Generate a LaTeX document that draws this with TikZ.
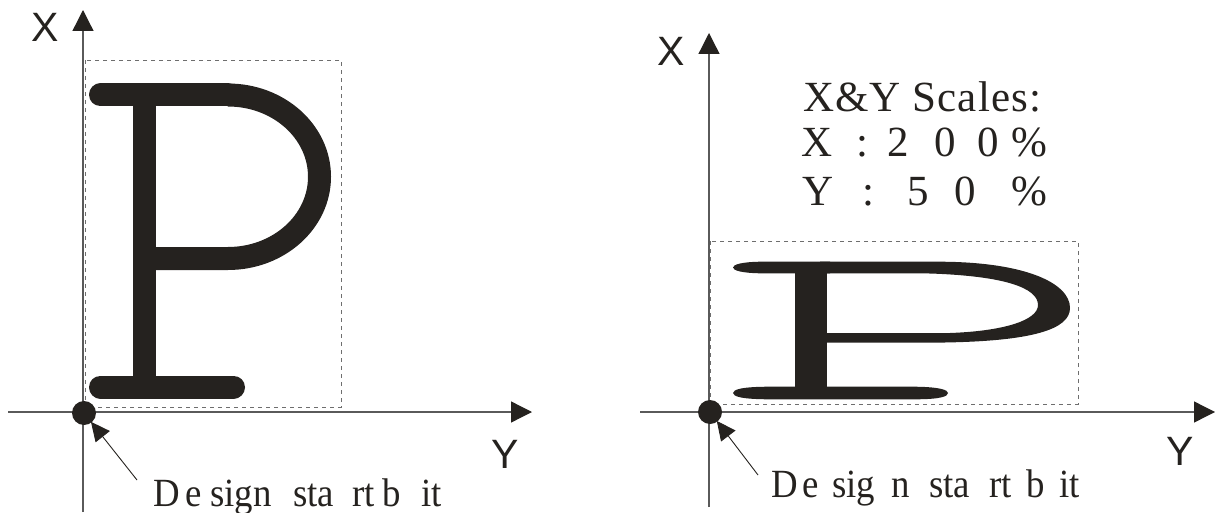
\documentclass[tikz,border=0pt]{standalone}
\usepackage{fontspec}
\setmainfont{Liberation Serif}
\newfontfamily\axfont{Liberation Sans}
\newfontfamily\scalefont[LetterSpace=2.5]{Liberation Serif}
\newfontfamily\startfont[FakeStretch=0.92]{Liberation Serif}
\usetikzlibrary{arrows.meta}
\definecolor{ink}{RGB}{37,34,31}
\definecolor{axisgray}{RGB}{90,90,90}
\definecolor{boxgray}{RGB}{110,110,110}
\tikzset{
  axisline/.style={draw=axisgray, line width=1.3pt,
    -{Triangle[length=21pt,width=21pt,color=ink]}},
  bbox/.style={draw=boxgray, line width=0.9pt, dash pattern=on 4pt off 4pt},
  startdot/.style={circle, fill=ink, minimum size=24pt, inner sep=0pt},
  pointer/.style={draw=ink, line width=0.9pt,
    -{Triangle[length=19pt,width=18pt,color=ink]}, shorten >=-1pt},
  axlabel/.style={text=ink, font=\axfont\fontsize{41}{45}\selectfont, inner sep=0pt},
  glyph/.style={text=ink, font=\fontsize{43}{48}\selectfont, anchor=base, inner sep=0pt},
  startlbl/.style={text=ink, font=\startfont\fontsize{40}{44}\selectfont, anchor=base west, inner sep=0pt},
  pstroke/.style={draw=ink, line width=23pt},
}
\begin{document}
\begin{tikzpicture}[x=1pt, y=-1pt]
\useasboundingbox (0,0) rectangle (1217,513);

% ---------- left diagram ----------
\coordinate (L-bot) at (83,512);
\coordinate (L-xtip) at (83,10);
\coordinate (L-left) at (8,412);
\coordinate (L-ytip) at (532,412);
\draw[bbox] (85,60) rectangle (341,407);
\draw[axisline] (L-bot) -- (L-xtip);
\draw[axisline] (L-left) -- (L-ytip);
\node[axlabel] (L-X) at (45,27) {X};
\node[axlabel] (L-Y) at (505,454) {Y};

% P (sans)
\draw[pstroke, line cap=round] (100.5,95) -- (228,95);
\draw[pstroke] (228,95) .. controls (278.5,95) and (319.5,131.6) .. (319.5,176.75)
   .. controls (319.5,221.9) and (278.5,258.5) .. (228,258.5) -- (144.5,258.5);
\draw[pstroke] (144.5,95) -- (144.5,387);
\draw[pstroke, line cap=round] (100.5,387) -- (233.5,387);

\node[startdot] (L-dot) at (84,413) {};
\coordinate (L-ptr) at (137,480);
\draw[pointer] (L-ptr) -- (L-dot);

\node[startlbl] (L-s1) at (153,506) {D};
\node[startlbl] (L-s2) at (185,506) {e};
\node[startlbl] (L-s3) at (210,506) {sign};
\node[startlbl] (L-s4) at (293,506) {sta};
\node[startlbl] (L-s5) at (352,506) {rt};
\node[startlbl] (L-s6) at (382,506) {b};
\node[startlbl] (L-s7) at (421,506) {it};

% ---------- right diagram ----------
\coordinate (R-bot) at (709,507);
\coordinate (R-xtip) at (709,33);
\coordinate (R-left) at (640,412);
\coordinate (R-ytip) at (1215,412);
\draw[bbox] (710,241) rectangle (1078,404);
\draw[axisline] (R-bot) -- (R-xtip);
\draw[axisline] (R-left) -- (R-ytip);
\node[axlabel] (R-X) at (671,51) {X};
\node[axlabel] (R-Y) at (1180,451) {Y};

% P (serif, scaled)
\fill[ink] (830,261.7) -- (760,261.7) .. controls (742,262) and (733,264.5) .. (733,267.5)
   .. controls (733,270.5) and (742,273) .. (760,273.3) -- (830,273.3) -- cycle;
\fill[ink] (795,266) rectangle (826.7,390);
\fill[ink] (820,261.7) -- (940,261.7) .. controls (1025,262) and (1070,283) .. (1070,308)
   .. controls (1070,330) and (1030,341) .. (945,342.5) -- (820,342.5) -- (820,333)
   -- (950,333) .. controls (1005,331) and (1038,320) .. (1038,305)
   .. controls (1038,288) and (1005,276) .. (930,273.5) -- (820,273.3) -- cycle;
\fill[ink] (770,386.7) -- (915,386.7) .. controls (940,387) and (948,390) .. (948,393)
   .. controls (948,396.5) and (940,399.3) .. (915,399.3) -- (770,399.3)
   .. controls (742,399.3) and (733,396.5) .. (733,393)
   .. controls (733,389.5) and (742,386.7) .. (770,386.7) -- cycle;

\node[startdot] (R-dot) at (710,412) {};
\coordinate (R-ptr) at (758,475);
\draw[pointer] (R-ptr) -- (R-dot);

\node[startlbl] (R-s1) at (771,497) {D};
\node[startlbl] (R-s2) at (802,497) {e};
\node[startlbl] (R-s3) at (832,497) {sig};
\node[startlbl] (R-s4) at (891,497) {n};
\node[startlbl] (R-s5) at (929,497) {sta};
\node[startlbl] (R-s6) at (989,497) {rt};
\node[startlbl] (R-s7) at (1026,497) {b};
\node[startlbl] (R-s8) at (1059,497) {it};

% scale text
\node[text=ink, font=\scalefont\fontsize{43}{48}\selectfont, anchor=base west, inner sep=0pt]
  (R-title) at (803,112) {X\&Y Scales:};
\node[glyph] (R-a1) at (817,157) {X};
\node[glyph] (R-a2) at (862,157) {:};
\node[glyph] (R-a3) at (898,157) {2};
\node[glyph] (R-a4) at (945,157) {0};
\node[glyph] (R-a5) at (988,157) {0};
\node[glyph] (R-a6) at (1029,157) {\%};
\node[glyph] (R-b1) at (818,205) {Y};
\node[glyph] (R-b2) at (868,205) {:};
\node[glyph] (R-b3) at (918,205) {5};
\node[glyph] (R-b4) at (965,205) {0};
\node[glyph] (R-b5) at (1029,205) {\%};
\end{tikzpicture}
\end{document}
